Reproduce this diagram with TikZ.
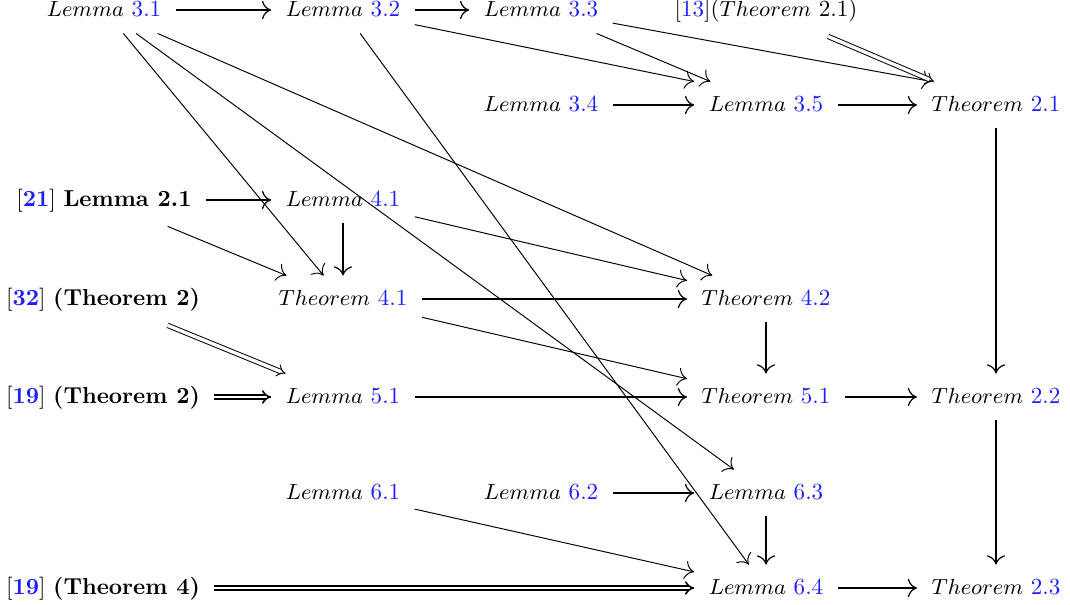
\documentclass[tikz,border=0pt]{standalone}
\usetikzlibrary{arrows.meta,calc}
\definecolor{refblue}{RGB}{30,30,255}
\newcommand{\mylem}[1]{$Lemma$ \textcolor{refblue}{#1}}
\newcommand{\mythm}[1]{$Theorem$ \textcolor{refblue}{#1}}
\begin{document}
\begin{tikzpicture}[x=0.4115pt,y=-0.4115pt,
  ent/.style={inner xsep=5.8pt, inner ysep=5.6pt, text height=6.7pt, text depth=1pt, font=\fontsize{9.5}{11}\selectfont},
  brk/.style={ent, inner ysep=6.8pt},
  ar/.style={line width=0.65pt, -{To[length=3.8pt,width=7.5pt,line width=0.5pt]}},
  dg/.style={line width=0.4pt, -{To[length=3.8pt,width=7.5pt,line width=0.4pt]}},
  dbl/.style={line width=0.4pt, double, double distance=1.4pt, -{Implies}},
  dblk/.style={line width=0.65pt, double, double distance=1.2pt, -{Implies}}
]
\fill[white] (0,0) rectangle (1070,604);
\useasboundingbox (0,0) rectangle (1070,604);

% row 1
\node[ent] (a31) at (104,10) {\mylem{3.1}};
\node[ent] (a32) at (343,10) {\mylem{3.2}};
\node[ent] (a33) at (541,10) {\mylem{3.3}};
\node[brk] (r13) at (766,10) {[\textcolor{refblue}{13}]($Theorem$ 2.1)};
% row 2
\node[ent] (a34) at (541,105) {\mylem{3.4}};
\node[ent] (a35) at (766,105) {\mylem{3.5}};
\node[ent] (t21) at (996,105) {\mythm{2.1}};
% row 3
\node[brk] (b21) at (104,200) {[\textcolor{refblue}{\textbf{21}}] \textbf{Lemma 2.1}};
\node[ent] (l41) at (343,200) {\mylem{4.1}};
% row 4
\node[brk] (r32) at (103,299) {[\textcolor{refblue}{\textbf{32}}] \textbf{(Theorem 2)}};
\node[ent] (t41) at (343,299) {\mythm{4.1}};
\node[ent] (t42) at (766,299) {\mythm{4.2}};
% row 5
\node[brk] (r19a) at (103,397) {[\textcolor{refblue}{\textbf{19}}] \textbf{(Theorem 2)}};
\node[ent] (l51) at (343,397) {\mylem{5.1}};
\node[ent] (t51) at (766,397) {\mythm{5.1}};
\node[ent] (t22) at (996,397) {\mythm{2.2}};
% row 6
\node[ent] (l61) at (343,493) {\mylem{6.1}};
\node[ent] (l62) at (541,493) {\mylem{6.2}};
\node[ent] (l63) at (766,493) {\mylem{6.3}};
% row 7
\node[brk] (r19b) at (103,588) {[\textcolor{refblue}{\textbf{19}}] \textbf{(Theorem 4)}};
\node[ent] (l64) at (766,588) {\mylem{6.4}};
\node[ent] (t23) at (996,588) {\mythm{2.3}};

% straight arrows
\draw[ar] (a31) -- (a32);
\draw[ar] (a32) -- (a33);
\draw[ar] (a34) -- (a35);
\draw[ar] (a35) -- (t21);
\draw[ar] (t21) -- (t22);
\draw[ar] (b21) -- (l41);
\draw[ar] (l41) -- (t41);
\draw[ar] (t41) -- (t42);
\draw[ar] (l51) -- (t51);
\draw[ar] (t42) -- (t51);
\draw[ar] (t51) -- (t22);
\draw[ar] (t22) -- (t23);
\draw[ar] (l62) -- (l63);
\draw[ar] (l63) -- (l64);
\draw[ar] (l64) -- (t23);

% diagonal arrows
\draw[dg] (a32) -- (a35.north west);
\draw[dg] (a33) -- (a35);
\draw[dg] (a33) -- ([xshift=6pt]t21.north west);
\draw[dg] (a31) -- (t41);
\draw[dg] (a31) -- (l63);
\draw[dg] (a31) -- (t42);
\draw[dg] (a32) -- (l64);
\draw[dg] (b21) -- (t41);
\draw[dg] (l41) -- (t42);
\draw[dg] (t41) -- (t51);
\draw[dg] (l61) -- (l64);

% double arrows
\draw[dbl] (r13) -- ([xshift=7pt]t21.north west);
\draw[dbl] (r32) -- (l51);
\draw[dblk] (r19a) -- (l51);
\draw[dblk] (r19b) -- (l64);
\end{tikzpicture}
\end{document}
